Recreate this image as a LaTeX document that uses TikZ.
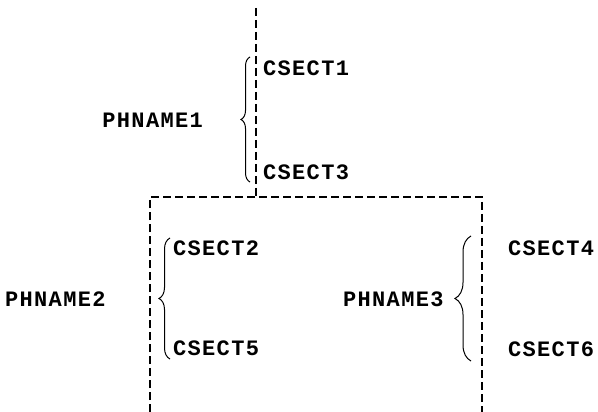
\documentclass[tikz,border=0pt]{standalone}
\usepackage{fontspec}
\newfontfamily\twfont{Liberation Mono}[LetterSpace=6]
\usetikzlibrary{decorations.pathreplacing}
\begin{document}
\begin{tikzpicture}[x=1pt,y=-1pt,
  lbl/.style={font=\twfont\bfseries\fontsize{22}{26}\selectfont, inner sep=0pt},
  dline/.style={line width=1.7pt, dash pattern=on 8pt off 4pt},
  br/.style={line width=1pt, decorate},
]
\useasboundingbox (0,0) rectangle (598,412);
% dashed structure
\coordinate (top) at (256,8);
\coordinate (j) at (256,197);
\coordinate (lc) at (150,197);
\coordinate (rc) at (482,197);
\coordinate (lb) at (150,412);
\coordinate (rb) at (482,412);
\draw[dline] (top) -- (j);
\draw[dline] (lb) -- (lc) -- (rc) -- (rb);
% labels
\node[lbl, anchor=west] (c1) at (263,68) {CSECT1};
\node[lbl, anchor=west] (c3) at (263,172) {CSECT3};
\node[lbl, anchor=east] (p1) at (203,120) {PHNAME1};
\node[lbl, anchor=west] (c2) at (173,248) {CSECT2};
\node[lbl, anchor=west] (c5) at (173,348) {CSECT5};
\node[lbl, anchor=west] (p2) at (5,299) {PHNAME2};
\node[lbl, anchor=west] (c4) at (508,248) {CSECT4};
\node[lbl, anchor=west] (c6) at (508,349) {CSECT6};
\node[lbl, anchor=west] (p3) at (343,299) {PHNAME3};
% braces
\draw[br, decoration={brace, amplitude=9pt}] (250,182) -- (250,57);
\draw[br, decoration={brace, amplitude=11pt}] (170,359) -- (170,238);
\draw[br, decoration={brace, amplitude=16pt}] (471,361) -- (471,236);
\end{tikzpicture}
\end{document}
